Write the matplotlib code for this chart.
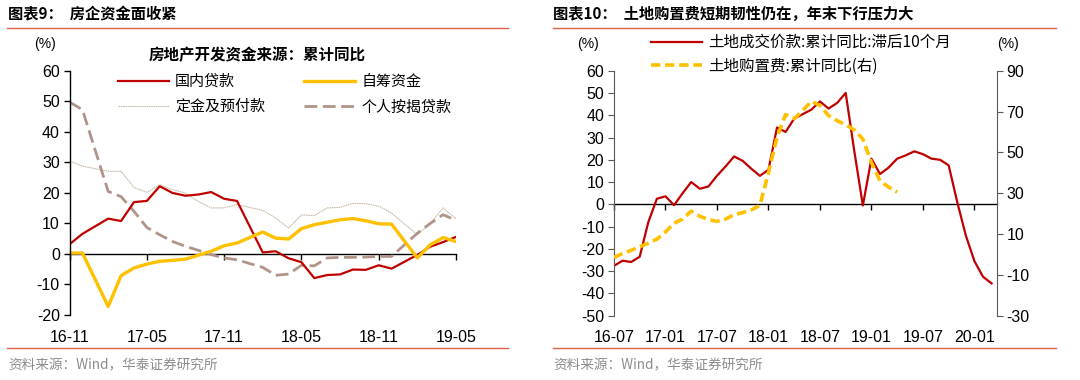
import numpy as np
import pandas as pd
import matplotlib
matplotlib.use("Agg")
import matplotlib.pyplot as plt
from matplotlib.lines import Line2D

plt.rcParams['font.family'] = ['Noto Sans CJK SC', 'DejaVu Sans']
plt.rcParams['axes.unicode_minus'] = False

# ---- left panel data: 2016-11 .. 2019-05, January not published (None) ----
left_months = pd.period_range('2016-11', '2019-05', freq='M')
domestic_loans = [3.2, 6.6, None, 11.6, 10.8, 17.0, 17.4, 22.2, 20.0, 19.1, 19.5, 20.3, 18.1, 17.4, None,
                  0.5, 0.9, -1.4, -2.7, -7.9, -6.9, -6.7, -5.1, -5.2, -3.7, -4.8, None, -0.3, 2.4, 3.9, 5.6]
self_raised = [0.3, 0.3, None, -17.2, -7.1, -4.6, -3.3, -2.4, -2.1, -1.7, -0.4, 0.9, 2.7, 3.6, None,
               7.2, 5.2, 4.9, 8.3, 9.6, 10.4, 11.2, 11.6, 10.9, 9.9, 9.8, None, -1.3, 3.0, 5.4, 4.1]
deposits = [30.4, 28.8, None, 27.1, 27.1, 21.8, 20.2, 22.7, 21.1, 20.0, 17.2, 15.1, 15.1, 16.2, None,
            14.3, 11.8, 8.5, 12.8, 12.6, 15.1, 15.3, 16.6, 16.5, 15.7, 13.4, None, 6.3, 10.0, 15.1, 11.5]
mortgages = [49.8, 47.3, None, 20.5, 18.8, 14.0, 8.7, 6.3, 4.1, 2.5, 1.2, -0.2, -1.3, -1.9, None,
             -4.4, -7.0, -6.6, -3.7, -3.9, -1.3, -1.1, -1.1, -1.0, -0.8, -0.8, None, 6.8, 10.0, 12.9, 11.0]
left_ticks = ['16-11', '17-05', '17-11', '18-05', '18-11', '19-05']

# ---- right panel data: 2016-07 .. 2020-03 ----
right_months = pd.period_range('2016-07', '2020-03', freq='M')
land_deal = [-27.6, -25.3, -25.9, -23.5, -8.0, 2.5, 3.6, -0.4, 5.0, 10.0, 7.0, 8.0, 12.8, 17.0, 21.5,
             19.5, 16.0, 12.8, 15.5, 34.5, 32.5, 38.5, 40.5, 42.5, 46.2, 43.0, 45.5, 50.0, 24.0, -0.5,
             20.5, 13.6, 16.5, 20.5, 22.0, 23.8, 22.5, 20.5, 20.0, 17.5, 1.0, -14.0, -25.5, -32.5, -35.5]
land_purchase = [-1.5, 0.5, 2.0, 3.8, 5.5, 7.5, 11.0, 15.3, 17.3, 21.2, 18.7, 17.1, 16.2, 17.3, 19.5,
                 20.5, 21.8, 24.0, 40.0, 57.5, 68.5, 66.5, 70.5, 75.0, 73.0, 68.0, 65.5, 63.5, 61.0, 56.5,
                 45.0, 36.0, 33.0, 30.5]
right_ticks = ['16-07', '17-01', '17-07', '18-01', '18-07', '19-01', '19-07', '20-01']

RED = '#C00000'
YEL = '#FFC000'
BROWN = '#B0948A'
TAN = '#C8BBA8'
num_font = 'Liberation Sans'


def series(vals):
    y = np.array([np.nan if v is None else v for v in vals], dtype=float)
    x = np.arange(len(y))
    ok = ~np.isnan(y)
    return x[ok], y[ok]


fig = plt.figure(figsize=(10.8, 3.8), dpi=100)

# ---------------- left panel ----------------
ax = fig.add_axes([0.0644, 0.1711, 0.3578, 0.6421])
ax.plot(*series(deposits), color=TAN, lw=0.8, ls=(0, (1.5, 0.6)), label='定金及预付款')
ax.plot(*series(mortgages), color=BROWN, lw=2.0, ls=(0, (4.6, 2.0)), label='个人按揭贷款')
ax.plot(*series(domestic_loans), color=RED, lw=1.6, label='国内贷款')
ax.plot(*series(self_raised), color=YEL, lw=2.4, label='自筹资金')
ax.set_xlim(0, len(left_months) - 1)
ax.set_ylim(-20, 60)
ax.set_yticks(range(-20, 61, 10))
ax.set_xticks(range(0, len(left_months), 6))
ax.set_xticklabels(left_ticks)
for s in ['top', 'right', 'bottom']:
    ax.spines[s].set_visible(False)
ax.spines['left'].set_linewidth(1.0)
ax.tick_params(axis='x', length=0, pad=11)
ax.tick_params(axis='y', direction='out', length=4, width=1.0, pad=3)
for lab in ax.get_xticklabels() + ax.get_yticklabels():
    lab.set_fontfamily(num_font)
    lab.set_fontsize(11.5)
zx = ax.secondary_xaxis(20 / 80)
zx.set_xticks(range(0, len(left_months), 6))
zx.tick_params(axis='x', direction='out', length=4, width=1.0, labelbottom=False)
zx.spines['bottom'].set_linewidth(1.0)

h = {l.get_label(): l for l in ax.get_lines()}
ax.legend([h['国内贷款'], h['定金及预付款'], h['自筹资金'], h['个人按揭贷款']],
          ['国内贷款', '定金及预付款', '自筹资金', '个人按揭贷款'],
          ncol=2, frameon=False, fontsize=10.8,
          handlelength=3.4, handletextpad=0.45, columnspacing=2.6, labelspacing=0.72,
          loc='upper left', bbox_to_anchor=(104 / 1080, 1 - 61 / 380), bbox_transform=fig.transFigure)
fig.text(257 / 1080, 1 - 55 / 380, '房地产开发资金来源：累计同比', ha='center', va='center',
         fontsize=11.2, weight='bold')
fig.text(45 / 1080, 1 - 44 / 380, '(%)', ha='center', va='center', fontsize=10, family=num_font)

# ---------------- right panel ----------------
bx = fig.add_axes([0.5685, 0.1692, 0.3544, 0.6448])
bx2 = bx.twinx()
l1, = bx.plot(np.arange(len(land_deal)), land_deal, color=RED, lw=1.6, solid_joinstyle='round')
l2, = bx2.plot(np.arange(len(land_purchase)), land_purchase, color=YEL, lw=2.6,
               ls=(0, (2.6, 1.3)))
bx.set_xlim(0, 44.6)
bx.set_ylim(-50, 60)
bx.set_yticks(range(-50, 61, 10))
bx2.set_ylim(-30, 90)
bx2.set_yticks(range(-30, 91, 20))
bx.set_xticks(range(0, len(right_months), 6))
bx.set_xticklabels(right_ticks)
for a in (bx, bx2):
    a.spines['top'].set_visible(False)
    a.spines['bottom'].set_visible(False)
bx.spines['right'].set_visible(False)
bx2.spines['left'].set_visible(False)
bx.spines['left'].set_color('#595959')
bx2.spines['right'].set_color('#595959')
bx.tick_params(axis='x', length=0, pad=10)
bx.tick_params(axis='y', direction='out', length=4, color='#595959', pad=3)
bx2.tick_params(axis='y', direction='out', length=4, color='#595959', pad=3)
for lab in bx.get_xticklabels() + bx.get_yticklabels() + bx2.get_yticklabels():
    lab.set_fontfamily(num_font)
    lab.set_fontsize(11.5)
zx2 = bx.secondary_xaxis(50 / 110)
zx2.set_xticks(range(0, len(right_months), 6))
zx2.tick_params(axis='x', direction='out', length=4, width=1.0, labelbottom=False)
zx2.spines['bottom'].set_linewidth(1.0)
bx.legend([l1, l2], ['土地成交价款:累计同比:滞后10个月', '土地购置费:累计同比(右)'],
          frameon=False, fontsize=11.2, handlelength=3.3, handletextpad=0.4, labelspacing=0.42,
          loc='upper left', bbox_to_anchor=(637 / 1080, 1 - 20 / 380), bbox_transform=fig.transFigure)
fig.text(588 / 1080, 1 - 44 / 380, '(%)', ha='center', va='center', fontsize=10, family=num_font)
fig.text(1008 / 1080, 1 - 44 / 380, '(%)', ha='center', va='center', fontsize=10, family=num_font)

# ---------------- titles, rules, sources ----------------
fig.text(8 / 1080, 1 - 14 / 380, '图表9：  房企资金面收紧', ha='left', va='center',
         fontsize=11, weight='bold')
fig.text(553 / 1080, 1 - 14 / 380, '图表10：  土地购置费短期韧性仍在，年末下行压力大', ha='left', va='center',
         fontsize=11, weight='bold')
for x0, x1 in [(7, 508), (553, 1056)]:
    for yy in (27.7, 347.7):
        fig.add_artist(Line2D([x0 / 1080, x1 / 1080], [1 - yy / 380, 1 - yy / 380],
                              color='#E06048', lw=1.0, transform=fig.transFigure))
fig.text(8 / 1080, 1 - 365 / 380, '资料来源：Wind，华泰证券研究所', ha='left', va='center',
         fontsize=9.8, color='#8C8C8C')
fig.text(553 / 1080, 1 - 365 / 380, '资料来源：Wind，华泰证券研究所', ha='left', va='center',
         fontsize=9.8, color='#8C8C8C')

fig.savefig('out.png', dpi=100)
